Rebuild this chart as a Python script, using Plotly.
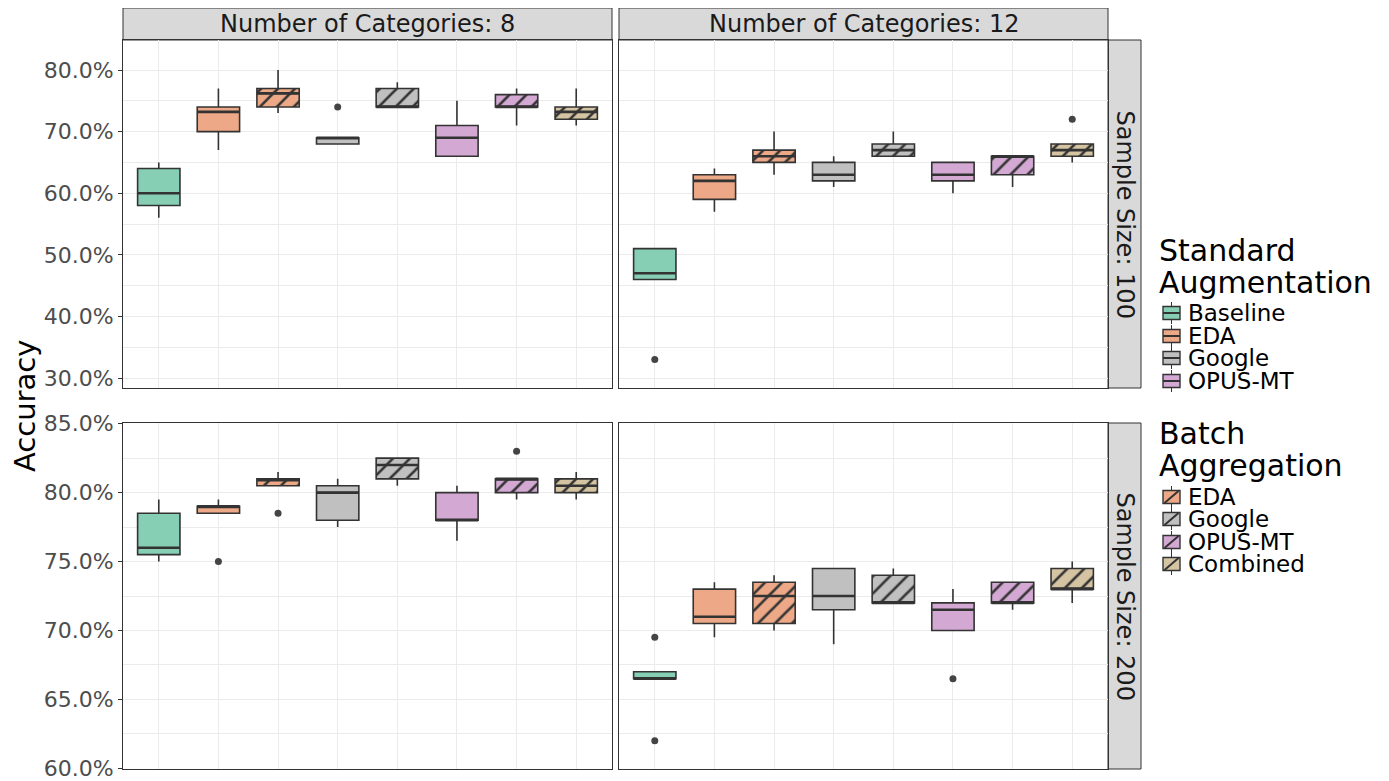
import plotly.graph_objects as go

# ---------------- data ----------------
methods = ["Baseline", "EDA", "EDA", "Google", "Google", "OPUS-MT", "OPUS-MT", "Combined"]
kinds = ["std", "std", "batch", "std", "batch", "std", "batch", "batch"]
positions = [1, 2, 3, 4, 5, 6, 7, 8]

# Number of Categories: 8, Sample Size: 100
c8_n100_low = [56, 67, 73, 68, 74, 66, 71, 71]
c8_n100_q1 = [58, 70, 74, 68, 74, 66, 74, 72]
c8_n100_med = [60, 73.2, 76.2, 69, 74, 69, 74, 73.2]
c8_n100_q3 = [64, 74, 77, 69, 77, 71, 76, 74]
c8_n100_up = [65, 77, 80, 69, 78, 75, 77, 77]
c8_n100_out_pos = [4]
c8_n100_out_val = [74]

# Number of Categories: 12, Sample Size: 100
c12_n100_low = [46, 57, 63, 61, 66, 60, 61, 65]
c12_n100_q1 = [46, 59, 65, 62, 66, 62, 63, 66]
c12_n100_med = [47, 62, 66, 63, 67, 63, 66, 67]
c12_n100_q3 = [51, 63, 67, 65, 68, 65, 66, 68]
c12_n100_up = [51, 64, 70, 66, 70, 65, 66, 68]
c12_n100_out_pos = [1, 8]
c12_n100_out_val = [33, 72]

# Number of Categories: 8, Sample Size: 200
c8_n200_low = [75, 78.5, 80.5, 77.5, 80.5, 76.5, 79.5, 79.5]
c8_n200_q1 = [75.5, 78.5, 80.5, 78, 81, 78, 80, 80]
c8_n200_med = [76, 79, 80.9, 80, 82, 78, 81, 80.5]
c8_n200_q3 = [78.5, 79, 81, 80.5, 82.5, 80, 81, 81]
c8_n200_up = [79.5, 79.5, 81.5, 81, 82.5, 80.5, 81, 81.5]
c8_n200_out_pos = [2, 3, 7]
c8_n200_out_val = [75, 78.5, 83]

# Number of Categories: 12, Sample Size: 200
c12_n200_low = [66.5, 69.5, 70, 69, 72, 70, 71.5, 72]
c12_n200_q1 = [66.5, 70.5, 70.5, 71.5, 72, 70, 72, 73]
c12_n200_med = [66.5, 71, 72.5, 72.5, 72, 71.5, 72, 73]
c12_n200_q3 = [67, 73, 73.5, 74.5, 74, 72, 73.5, 74.5]
c12_n200_up = [67, 73.5, 74, 74.5, 74.5, 73, 73.5, 75]
c12_n200_out_pos = [1, 1, 6]
c12_n200_out_val = [69.5, 62, 66.5]

col_labels = ["Number of Categories: 8", "Number of Categories: 12"]
row_labels = ["Sample Size: 100", "Sample Size: 200"]

std_legend = ["Baseline", "EDA", "Google", "OPUS-MT"]
batch_legend = ["EDA", "Google", "OPUS-MT", "Combined"]

colors = {
    "Baseline": "#86CFB5",
    "EDA": "#EDA987",
    "Google": "#C0C0C0",
    "OPUS-MT": "#D3A8D3",
    "Combined": "#D5C4A2",
}

# ---------------- layout helpers ----------------
# page body has an 8px margin, so the figure is offset by 8px;
# the figure is made a little taller than the window so the lowest tick label is not culled
OFF = 8
W, H = 1389 - OFF, 800


def px(x):
    return (x - OFF) / W


def py(y):
    return 1 - (y - OFF) / H


DARK = "#333333"
panels = [
    ("", (c8_n100_low, c8_n100_q1, c8_n100_med, c8_n100_q3, c8_n100_up, c8_n100_out_pos, c8_n100_out_val), (123, 612), (40, 388)),
    ("2", (c12_n100_low, c12_n100_q1, c12_n100_med, c12_n100_q3, c12_n100_up, c12_n100_out_pos, c12_n100_out_val), (619, 1108), (40, 388)),
    ("3", (c8_n200_low, c8_n200_q1, c8_n200_med, c8_n200_q3, c8_n200_up, c8_n200_out_pos, c8_n200_out_val), (123, 612), (423, 769)),
    ("4", (c12_n200_low, c12_n200_q1, c12_n200_med, c12_n200_q3, c12_n200_up, c12_n200_out_pos, c12_n200_out_val), (619, 1108), (423, 769)),
]

BW = 0.71
fig = go.Figure()

for suffix, data, xr, yr in panels:
    low, q1, med, q3, up, opos, oval = data
    xa, ya = "x" + suffix, "y" + suffix
    for i, pos in enumerate(positions):
        m, k = methods[i], kinds[i]
        c = colors[m]
        if k == "batch":
            fig.add_trace(go.Bar(
                x=[pos], y=[(q3[i] - q1[i]) / 100], base=[q1[i] / 100], width=BW,
                marker=dict(color=c, line=dict(width=0),
                            pattern=dict(shape="/", fgcolor=DARK, bgcolor=c,
                                         size=12, solidity=0.22, fillmode="replace")),
                xaxis=xa, yaxis=ya, showlegend=False, hoverinfo="skip",
            ))
        fig.add_trace(go.Box(
            x=[pos], q1=[q1[i] / 100], median=[med[i] / 100], q3=[q3[i] / 100],
            lowerfence=[low[i] / 100], upperfence=[up[i] / 100],
            width=BW, whiskerwidth=0, boxpoints=False,
            fillcolor=c if k == "std" else "rgba(0,0,0,0)",
            line=dict(color=DARK, width=1.6),
            xaxis=xa, yaxis=ya, showlegend=False, hoverinfo="skip",
        ))
    mx, my = [], []
    for i, pos in enumerate(positions):
        mx += [pos - BW / 2, pos + BW / 2, None]
        my += [med[i] / 100, med[i] / 100, None]
    fig.add_trace(go.Scatter(x=mx, y=my, mode="lines", line=dict(color=DARK, width=2.6),
                             xaxis=xa, yaxis=ya, showlegend=False, hoverinfo="skip"))
    fig.add_trace(go.Scatter(x=opos, y=[v / 100 for v in oval], mode="markers",
                             marker=dict(color="#444444", size=7),
                             xaxis=xa, yaxis=ya, showlegend=False, hoverinfo="skip"))

grid = "#EBEBEB"
layout = dict(
    width=W, height=H, margin=dict(l=0, r=0, t=0, b=0, autoexpand=False),
    paper_bgcolor="white", plot_bgcolor="white",
    barmode="overlay", showlegend=False,
    font=dict(family="DejaVu Sans", color="#1A1A1A"),
)

for suffix, data, xr, yr in panels:
    top_row = yr[0] == 40
    left_col = xr[0] == 123
    layout["xaxis" + suffix] = dict(
        domain=[px(xr[0]), px(xr[1])], anchor="y" + suffix, automargin=False,
        range=[0.4, 8.6], tickvals=positions, showticklabels=False, ticks="",
        showgrid=True, gridcolor=grid, gridwidth=1, zeroline=False,
        showline=True, mirror=True, linecolor=DARK, linewidth=1,
    )
    ydict = dict(
        domain=[py(yr[1]), py(yr[0])], anchor="x" + suffix, automargin=False,
        showgrid=True, gridcolor=grid, gridwidth=1, zeroline=False,
        showline=True, mirror=True, linecolor=DARK, linewidth=1,
        tickformat=".1%", tickfont=dict(size=22, color="#4D4D4D"),
        showticklabels=left_col,
        ticks="outside" if left_col else "", ticklen=4, tickcolor=DARK,
    )
    if top_row:
        ydict.update(range=[0.2838, 0.8487], tick0=0.3, dtick=0.1,
                     minor=dict(showgrid=True, gridcolor=grid, gridwidth=0.6, tick0=0.35, dtick=0.1))
    else:
        ydict.update(range=[0.5995, 0.8505], tick0=0.6, dtick=0.05,
                     minor=dict(showgrid=True, gridcolor=grid, gridwidth=0.6, tick0=0.625, dtick=0.05))
    layout["yaxis" + suffix] = ydict

shapes = []
annotations = []
STRIP = "#D9D9D9"
for j, (x0, x1) in enumerate([(123, 612), (619, 1108)]):
    shapes.append(dict(type="rect", xref="paper", yref="paper",
                       x0=px(x0), x1=px(x1), y0=py(40), y1=py(8),
                       fillcolor=STRIP, line=dict(color=DARK, width=1), layer="below"))
    annotations.append(dict(xref="paper", yref="paper", x=px((x0 + x1) / 2), y=py(24),
                            text=col_labels[j], showarrow=False,
                            font=dict(size=24, color="#1A1A1A"), xanchor="center", yanchor="middle"))
for j, (y0, y1) in enumerate([(40, 388), (423, 769)]):
    shapes.append(dict(type="rect", xref="paper", yref="paper",
                       x0=px(1108), x1=px(1141), y0=py(y1), y1=py(y0),
                       fillcolor=STRIP, line=dict(color=DARK, width=1), layer="below"))
    annotations.append(dict(xref="paper", yref="paper", x=px(1124.5), y=py((y0 + y1) / 2),
                            text=row_labels[j], showarrow=False, textangle=90,
                            font=dict(size=24, color="#1A1A1A"), xanchor="center", yanchor="middle"))

annotations.append(dict(xref="paper", yref="paper", x=px(25), y=py(406), text="Accuracy",
                        showarrow=False, textangle=-90, font=dict(size=29, color="#000000"),
                        xanchor="center", yanchor="middle"))


def legend_block(title_lines, title_ys, names, item_ys, hatched):
    for t, yy in zip(title_lines, title_ys):
        annotations.append(dict(xref="paper", yref="paper", x=px(1157), y=py(yy), text=t,
                                showarrow=False, font=dict(size=30, color="#000000"),
                                xanchor="left", yanchor="middle"))
    for name, yy in zip(names, item_ys):
        cx = 1171.5
        shapes.append(dict(type="line", xref="paper", yref="paper",
                           x0=px(cx), x1=px(cx), y0=py(yy + 11), y1=py(yy - 11),
                           line=dict(color=DARK, width=1)))
        shapes.append(dict(type="rect", xref="paper", yref="paper",
                           x0=px(cx - 8.5), x1=px(cx + 8.5), y0=py(yy + 6.5), y1=py(yy - 6.5),
                           fillcolor=colors[name], line=dict(color=DARK, width=1.4)))
        if hatched:
            shapes.append(dict(type="line", xref="paper", yref="paper",
                               x0=px(cx - 7), x1=px(cx + 7), y0=py(yy + 6), y1=py(yy - 6),
                               line=dict(color=DARK, width=2)))
        else:
            shapes.append(dict(type="line", xref="paper", yref="paper",
                               x0=px(cx - 8.5), x1=px(cx + 8.5), y0=py(yy), y1=py(yy),
                               line=dict(color=DARK, width=2)))
        annotations.append(dict(xref="paper", yref="paper", x=px(1186), y=py(yy), text=name,
                                showarrow=False, font=dict(size=23, color="#000000"),
                                xanchor="left", yanchor="middle"))


legend_block(["Standard", "Augmentation"], [250, 282], std_legend, [313, 336, 358, 381], False)
legend_block(["Batch", "Aggregation"], [433, 465], batch_legend, [497, 519, 542, 564], True)

layout["shapes"] = shapes
layout["annotations"] = annotations
fig.update_layout(**layout)
fig.write_html("out.html")
